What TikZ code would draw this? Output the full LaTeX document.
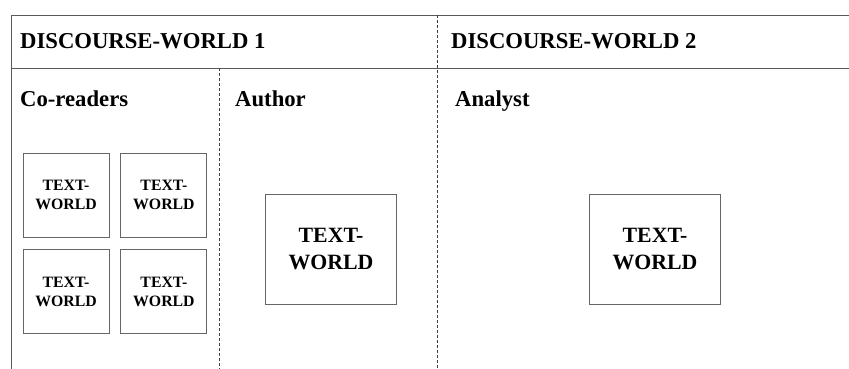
\documentclass[tikz,border=0pt]{standalone}
\usepackage{fontspec}
\setmainfont{Liberation Serif}
\usetikzlibrary{positioning}
\def\frametop{(11,15) -- (849,15)}
\def\framemid{(11,68) -- (849,68)}
\def\frameleft{(11,15) -- (11,369)}
\def\bbox{(0,0) rectangle (849,369)}

\begin{document}
\begin{tikzpicture}[x=1pt,y=-1pt,
  rule/.style={draw=black!65,line width=0.9pt},
  divider/.style={draw=black!75,line width=0.7pt,dash pattern=on 3pt off 2pt},
  heading/.style={anchor=base west,inner sep=0pt,font=\bfseries\fontsize{22.7}{26}\selectfont},
  smallworld/.style={draw=black!60,line width=0.9pt,minimum width=86pt,minimum height=84pt,inner sep=0pt,align=center,font=\bfseries\fontsize{15.8}{18.5}\selectfont},
  bigworld/.style={draw=black!60,line width=0.9pt,minimum width=131pt,minimum height=110pt,inner sep=0pt,align=center,font=\bfseries\fontsize{21.8}{27}\selectfont}]
\useasboundingbox \bbox;
\draw[rule] \frametop;
\draw[rule] \framemid;
\draw[rule] \frameleft;
\draw[divider] (437,15) -- (437,369);
\draw[divider] (219,68) -- (219,369);
% headings
\node[heading] (dwone) at (20,48.5) {DISCOURSE-WORLD 1};
\node[heading] (dwtwo) at (451,48.5) {DISCOURSE-WORLD 2};
\node[heading] (coreaders) at (20,106.5) {Co-readers};
\node[heading] (author) at (235,106.5) {Author};
\node[heading] (analyst) at (455,106.5) {Analyst};
% text-worlds
\node[smallworld] (twa) at (66,195) {TEXT-\\WORLD};
\node[smallworld,right=11pt of twa] (twb) {TEXT-\\WORLD};
\node[smallworld,below=12pt of twa] (twc) {TEXT-\\WORLD};
\node[smallworld,below=12pt of twb] (twd) {TEXT-\\WORLD};
\node[bigworld] (twauthor) at (331,249) {TEXT-\\WORLD};
\node[bigworld] (twanalyst) at (655,249) {TEXT-\\WORLD};
\end{tikzpicture}
\end{document}
